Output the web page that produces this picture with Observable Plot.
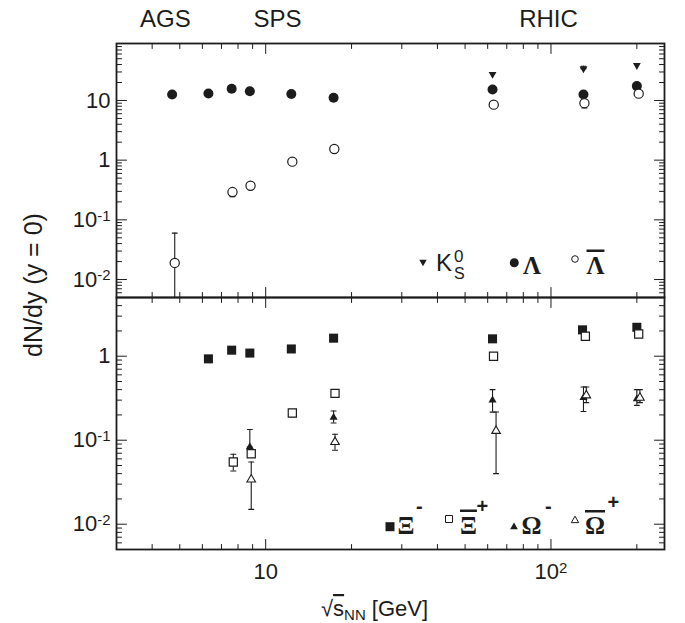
<!DOCTYPE html>
<html><head><meta charset="utf-8">
<script src="https://cdn.jsdelivr.net/npm/d3@7"></script>
<script src="https://cdn.jsdelivr.net/npm/@observablehq/plot@0.6"></script>
<style>
body{margin:0;background:#fff;}
#wrap{position:relative;width:685px;height:623px;overflow:hidden;}
#wrap > svg{position:absolute;left:0;}
</style></head><body><div id="wrap"></div>
<script>
// ---------- data ----------
const xDomain = [3, 250];
const topYDomain = [0.005, 90];
const botYDomain = [0.005, 5];
const topYLabels = [0.01, 0.1, 1, 10];
const botYLabels = [0.01, 0.1, 1];
const xLabels = [10, 100];
const expNames = ["AGS", "SPS", "RHIC"];
const expX = [4.45, 11, 98];

// top panel
const k0sX = [62.4, 130, 200];
const k0sY = [27.4, 34.1, 38.7];
const k0sLo = [null, null, null];
const k0sHi = [null, 37.5, null];

const lamX = [4.7, 6.3, 7.6, 8.8, 12.3, 17.3, 62.4, 130, 200];
const lamY = [12.6, 13.1, 15.7, 14.3, 12.8, 11.1, 15.3, 12.6, 17.4];

const alamX = [4.8, 7.65, 8.85, 12.4, 17.4, 63, 131, 203];
const alamY = [0.019, 0.292, 0.372, 0.944, 1.54, 8.5, 9.0, 13.0];
const alamLo = [0.004, 0.245, null, null, null, null, 7.5, null];
const alamHi = [0.06, null, null, null, null, null, null, null];

// bottom panel
const xiX = [6.3, 7.6, 8.8, 12.3, 17.3, 62.4, 129, 200];
const xiY = [0.93, 1.18, 1.09, 1.22, 1.64, 1.61, 2.06, 2.21];
const xiLo = [0.85, null, null, null, null, null, null, null];

const axiX = [7.7, 8.9, 12.4, 17.5, 62.9, 132, 203];
const axiY = [0.055, 0.069, 0.211, 0.361, 1.0, 1.73, 1.84];
const axiLo = [0.043, null, 0.19, null, null, null, null];
const axiHi = [0.068, null, null, null, null, null, null];

const omX = [8.8, 17.3, 62.4, 130, 200];
const omY = [0.083, 0.187, 0.30, 0.32, 0.31];
const omLo = [null, 0.16, 0.216, 0.22, 0.26];
const omHi = [0.134, 0.223, 0.40, 0.43, 0.40];

const aomX = [8.9, 17.5, 64.2, 133, 205];
const aomY = [0.034, 0.095, 0.129, 0.342, 0.32];
const aomLo = [0.015, 0.076, 0.040, 0.28, 0.28];
const aomHi = [0.055, 0.118, 0.217, 0.43, 0.40];

// ---------- helpers ----------
const INK = "#1c1c1c";
const rows = (X, Y, Lo, Hi) => X.map((x, i) => ({x, y: Y[i], lo: Lo ? Lo[i] : null, hi: Hi ? Hi[i] : null}));
const tickLine = {draw(ctx, l) { ctx.moveTo(0, 0); ctx.lineTo(0, -l); }};
const downTri = {draw(ctx, size) {
  const s3 = Math.sqrt(3), y = -Math.sqrt(size / (s3 * 3));
  ctx.moveTo(0, -2 * y); ctx.lineTo(-s3 * y, y); ctx.lineTo(s3 * y, y); ctx.closePath();
}};
const isMajor = v => Math.abs(Math.log10(v) - Math.round(Math.log10(v))) < 1e-9;
const fmt = v => { const e = Math.round(Math.log10(v)); return e === 0 ? "1" : e === 1 ? "10" : "10^" + e; };

function frameTicks(yDomain) {
  const xt = d3.scaleLog().domain(xDomain).ticks();
  const yt = d3.scaleLog().domain(yDomain).ticks();
  const marks = [];
  for (const [sel, len] of [[v => !isMajor(v), 5], [isMajor, 10]]) {
    const xs = xt.filter(sel), ys = yt.filter(sel);
    const o = {anchor: "start", shape: tickLine, length: len, stroke: INK, strokeWidth: 1};
    marks.push(Plot.vector(xs, {...o, x: d => d, frameAnchor: "bottom", rotate: 0}));
    marks.push(Plot.vector(xs, {...o, x: d => d, frameAnchor: "top", rotate: 180}));
    marks.push(Plot.vector(ys, {...o, y: d => d, frameAnchor: "left", rotate: 90}));
    marks.push(Plot.vector(ys, {...o, y: d => d, frameAnchor: "right", rotate: -90}));
  }
  return marks;
}

function errMarks(data, yDomain) {
  const d = data.filter(r => r.lo != null || r.hi != null).map(r => ({x: r.x, lo: r.lo ?? r.y, hi: r.hi ?? r.y}));
  const caps = [];
  for (const r of d) {
    for (const v of [r.lo, r.hi]) if (v >= yDomain[0] && v <= yDomain[1]) caps.push({x: r.x, y: v});
  }
  return [
    Plot.ruleX(d, {x: "x", y1: "lo", y2: "hi", stroke: INK, strokeWidth: 1.1, clip: true}),
    Plot.vector(caps, {x: "x", y: "y", rotate: 90, length: 5, anchor: "middle", shape: tickLine, stroke: INK, strokeWidth: 1.1})
  ];
}

function superscripts(svg) {
  d3.select(svg).selectAll('g[aria-label$="tick label"] text').each(function () {
    const m = this.textContent.match(/^10\^(.+)$/);
    if (m) {
      this.textContent = "10";
      d3.select(this).append("tspan").attr("dy", "-0.42em").attr("font-size", "0.68em").text(m[1]);
    }
  });
}

const baseStyle = {fontFamily: "'Liberation Sans', Arial, sans-serif", fontSize: "22px", color: INK, overflow: "visible", background: "transparent"};

// ---------- top panel ----------
const k0s = rows(k0sX, k0sY, k0sLo, k0sHi);
const lam = rows(lamX, lamY);
const alam = rows(alamX, alamY, alamLo, alamHi);

const topPlot = Plot.plot({
  width: 685, height: 297,
  marginTop: 43, marginBottom: 0, marginLeft: 116, marginRight: 21,
  style: baseStyle,
  x: {type: "log", domain: xDomain, axis: null},
  y: {type: "log", domain: topYDomain},
  marks: [
    ...errMarks(k0s, topYDomain),
    ...errMarks(alam, topYDomain),
    Plot.dot(k0s, {x: "x", y: "y", symbol: downTri, r: 2.9, fill: INK, stroke: "none"}),
    Plot.dot(lam, {x: "x", y: "y", symbol: "circle", r: 5, fill: INK, stroke: "none"}),
    Plot.dot(alam, {x: "x", y: "y", symbol: "circle", r: 4.6, fill: "white", stroke: INK, strokeWidth: 1.2}),
    Plot.axisY({ticks: topYLabels, tickSize: 0, tickPadding: 6, tickFormat: fmt, label: null}),
    Plot.text(expNames, {x: (d, i) => expX[i], text: d => d, frameAnchor: "top", dy: -24, fontSize: 24, lineAnchor: "middle", fill: INK}),
    ...frameTicks(topYDomain),
    Plot.frame({stroke: INK, strokeWidth: 1.8})
  ]
});
superscripts(topPlot);
topPlot.style.top = "0px";

// ---------- bottom panel ----------
const xi = rows(xiX, xiY, xiLo, null);
const axi = rows(axiX, axiY, axiLo, axiHi);
const om = rows(omX, omY, omLo, omHi);
const aom = rows(aomX, aomY, aomLo, aomHi);

const botPlot = Plot.plot({
  width: 685, height: 326,
  marginTop: 0, marginBottom: 74, marginLeft: 116, marginRight: 21,
  style: baseStyle,
  x: {type: "log", domain: xDomain},
  y: {type: "log", domain: botYDomain},
  marks: [
    ...errMarks(xi, botYDomain),
    ...errMarks(axi, botYDomain),
    ...errMarks(om, botYDomain),
    ...errMarks(aom, botYDomain),
    Plot.dot(xi, {x: "x", y: "y", symbol: "square", r: 5.1, fill: INK, stroke: "none"}),
    Plot.dot(axi, {x: "x", y: "y", symbol: "square", r: 4.6, fill: "white", stroke: INK, strokeWidth: 1.2}),
    Plot.dot(om, {x: "x", y: "y", symbol: "triangle", r: 3.0, fill: INK, stroke: "none"}),
    Plot.dot(aom, {x: "x", y: "y", symbol: "triangle", r: 3.2, fill: "white", stroke: INK, strokeWidth: 1.1}),
    Plot.axisY({ticks: botYLabels, tickSize: 0, tickPadding: 6, tickFormat: fmt, label: null}),
    Plot.axisX({ticks: xLabels, tickSize: 0, tickPadding: 14, tickFormat: fmt, label: null}),
    ...frameTicks(botYDomain),
    Plot.frame({stroke: INK, strokeWidth: 1.8})
  ]
});
superscripts(botPlot);
botPlot.style.top = "297px";

const wrap = document.getElementById("wrap");
wrap.appendChild(topPlot);
wrap.appendChild(botPlot);

// ---------- overlay: titles and legends ----------
const ov = d3.select(wrap).append("svg")
  .attr("width", 685).attr("height", 623)
  .style("top", "0px").style("pointer-events", "none")
  .attr("font-family", "'Liberation Sans', Arial, sans-serif").attr("fill", INK);

ov.append("text").attr("transform", "translate(42,285) rotate(-90)")
  .attr("text-anchor", "middle").attr("font-size", 25).text("dN/dy (y = 0)");

const xt = ov.append("text").attr("x", 321).attr("y", 616).attr("font-size", 22);
xt.append("tspan").text("\u221A");
xt.append("tspan").attr("text-decoration", "overline").text("s");
xt.append("tspan").attr("font-size", 15).attr("dy", 4).text("NN");
xt.append("tspan").attr("dy", -4).text(" [GeV]");

const serif = "'Liberation Serif', 'Times New Roman', serif";
function sym(shape, size, x, y, filled) {
  const p = d3.path(); shape.draw(p, size);
  ov.append("path").attr("d", p.toString()).attr("transform", `translate(${x},${y})`)
    .attr("fill", filled ? INK : "white").attr("stroke", filled ? "none" : INK).attr("stroke-width", 1);
}
function txt(s, x, y, size, opts = {}) {
  const t = ov.append("text").attr("x", x).attr("y", y).attr("font-size", size).text(s);
  if (opts.serif) t.attr("font-family", serif).attr("font-weight", "bold");
  if (opts.bold) t.attr("font-weight", "bold");
  if (opts.over) t.attr("text-decoration", "overline");
  return t;
}
// top legend
sym(downTri, 24, 423, 262, true);
txt("K", 436, 271, 24);
txt("0", 454, 262, 17);
txt("S", 454, 279, 16);
sym(d3.symbolCircle, Math.PI * 4.5 * 4.5, 514.3, 262.7, true);
txt("\u039B", 523, 273.5, 25, {serif: true});
sym(d3.symbolCircle, Math.PI * 3.3 * 3.3, 575, 259, false);
txt("\u039B", 586.5, 273.5, 25, {serif: true, over: true});
// bottom legend
sym(d3.symbolSquare, 81, 390, 526.7, true);
txt("\u039E", 397.5, 533.5, 25, {serif: true});
txt("-", 416, 512.7, 20, {bold: true});
sym(d3.symbolSquare, 49, 449, 519, false);
txt("\u039E", 460, 533.5, 25, {serif: true, over: true});
txt("+", 476.5, 512.6, 20, {bold: true});
sym(d3.symbolTriangle, 26, 514, 527, true);
txt("\u03A9", 521.5, 534, 25, {serif: true});
txt("-", 545, 512.7, 20, {bold: true});
sym(d3.symbolTriangle, 24, 575, 520.5, false);
txt("\u03A9", 585, 534, 25, {serif: true, over: true});
txt("+", 607.5, 508.6, 20, {bold: true});
</script></body></html>
